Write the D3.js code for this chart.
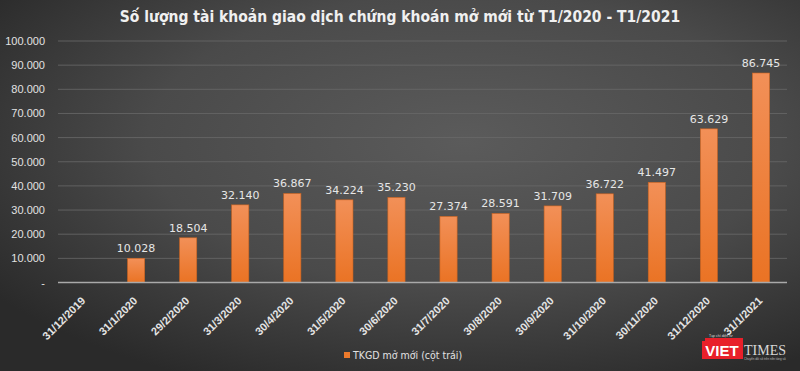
<!DOCTYPE html>
<html><head><meta charset="utf-8">
<script src="https://cdn.jsdelivr.net/npm/d3@7"></script>
<style>html,body{margin:0;padding:0;background:#333;}svg{display:block;}</style>
</head><body>
<svg id="c" width="800" height="371"></svg>
<script>
const categories = ["31/12/2019","31/1/2020","29/2/2020","31/3/2020","30/4/2020","31/5/2020","30/6/2020","31/7/2020","30/8/2020","30/9/2020","31/10/2020","30/11/2020","31/12/2020","31/1/2021"];
const values = [0,10028,18504,32140,36867,34224,35230,27374,28591,31709,36722,41497,63629,86745];
const yTicks = [0,10000,20000,30000,40000,50000,60000,70000,80000,90000,100000];
const titleText = "Số lượng tài khoản giao dịch chứng khoán mở mới từ T1/2020 - T1/2021";
const legendLabel = "TKGD mở mới (cột trái)";

const W = 800, H = 371;
const svg = d3.select("#c");
const defs = svg.append("defs");
const bg = defs.append("radialGradient").attr("id","bg").attr("cx","0.58").attr("cy","0.38").attr("r","0.72");
bg.append("stop").attr("offset","0").attr("stop-color","#5b5b5b");
bg.append("stop").attr("offset","0.55").attr("stop-color","#4a4a4a");
bg.append("stop").attr("offset","1").attr("stop-color","#2a2a2a");
const bar = defs.append("linearGradient").attr("id","bar").attr("x1",0).attr("y1",0).attr("x2",0).attr("y2",1);
bar.append("stop").attr("offset","0").attr("stop-color","#f29058");
bar.append("stop").attr("offset","1").attr("stop-color","#ea7324");

svg.append("rect").attr("width",W).attr("height",H).attr("fill","url(#bg)");

const x = d3.scaleBand().domain(categories).range([58,787]).paddingInner(0.67).paddingOuter(0.335);
const y = d3.scaleLinear().domain([0,100000]).range([282.5,41]);

const fmt = v => v === 0 ? "-" : d3.format(",")(v).replace(/,/g,".");

// gridlines
svg.append("g").selectAll("line").data(yTicks.filter(t=>t>0)).join("line")
  .attr("x1",58).attr("x2",787).attr("y1",d=>y(d)).attr("y2",d=>y(d))
  .attr("stroke","#6a6a6a").attr("stroke-width",1).attr("opacity",0.8);

// y axis labels
const yAxis = d3.axisLeft(y).tickValues(yTicks).tickSize(0).tickPadding(0).tickFormat(fmt);
const yg = svg.append("g").attr("transform","translate(45,0)").call(yAxis);
yg.select(".domain").remove();
yg.selectAll("text").attr("fill","#e2e2e2").attr("font-family","'Liberation Sans', Arial, sans-serif").attr("font-size",11);

// bars
svg.append("g").selectAll("rect").data(values.map((v,i)=>({c:categories[i],v}))).join("rect")
  .attr("x",d=>x(d.c)).attr("width",x.bandwidth())
  .attr("y",d=>y(d.v)).attr("height",d=>y(0)-y(d.v))
  .attr("fill","url(#bar)").attr("stroke","#c9621f").attr("stroke-width",0.6);

// value labels
svg.append("g").selectAll("text").data(values.map((v,i)=>({c:categories[i],v})).filter(d=>d.v>0)).join("text")
  .attr("x",d=>x(d.c)+x.bandwidth()/2).attr("y",d=>y(d.v)-6)
  .attr("text-anchor","middle").attr("fill","#e6e6e6")
  .attr("font-family","'DejaVu Sans', sans-serif").attr("font-size",11)
  .text(d=>fmt(d.v));

// x axis
const xAxis = d3.axisBottom(x).tickSize(0).tickPadding(0);
const xg = svg.append("g").attr("transform","translate(0,282.5)").call(xAxis);
xg.select(".domain").attr("stroke","#a9a9a9").attr("stroke-width",1.5).attr("d","M58,0H787");
xg.selectAll("text")
  .attr("fill","#e4e4e4").attr("font-family","'Liberation Sans', Arial, sans-serif").attr("font-size",11)
  .attr("font-weight","bold").attr("text-anchor","end").attr("dy",0).attr("y",0)
  .attr("transform","translate(2,19) rotate(-45)");

// title
svg.append("text").attr("x",400).attr("y",22).attr("text-anchor","middle")
  .attr("fill","#f0f0f0").attr("font-family","'DejaVu Sans Condensed','DejaVu Sans',sans-serif")
  .attr("font-weight","bold").attr("font-size",15.5).text(titleText);

// legend
svg.append("rect").attr("x",344).attr("y",352).attr("width",6).attr("height",6).attr("fill","#ec7a2c");
svg.append("text").attr("x",353).attr("y",358.5).attr("fill","#e2e2e2")
  .attr("font-family","'DejaVu Sans Condensed','DejaVu Sans', sans-serif").attr("font-size",10.5).text(legendLabel);

// logo
const lg = svg.append("g");
lg.append("rect").attr("x",702).attr("y",341).attr("width",41).attr("height",18).attr("fill","#e8202a");
lg.append("rect").attr("x",705).attr("y",338).attr("width",38).attr("height",3).attr("fill","#e8202a");
lg.append("text").attr("x",722).attr("y",356).attr("text-anchor","middle").attr("fill","#fff")
  .attr("font-family","'Liberation Sans',Arial,sans-serif").attr("font-weight","bold").attr("font-size",15).text("VIET");
lg.append("text").attr("x",744).attr("y",355).attr("fill","#d8d8d8")
  .attr("font-family","'Liberation Serif',serif").attr("font-size",14).text("TIMES");
lg.append("text").attr("x",709).attr("y",337).attr("fill","#dddddd")
  .attr("font-family","'Liberation Sans',sans-serif").attr("font-size",3.5).text("Tạp chí điện tử");
lg.append("text").attr("x",744).attr("y",360).attr("fill","#bbbbbb")
  .attr("font-family","'Liberation Sans',sans-serif").attr("font-size",3).text("Chuyển đổi số trên nền tảng số");
</script>
</body></html>
